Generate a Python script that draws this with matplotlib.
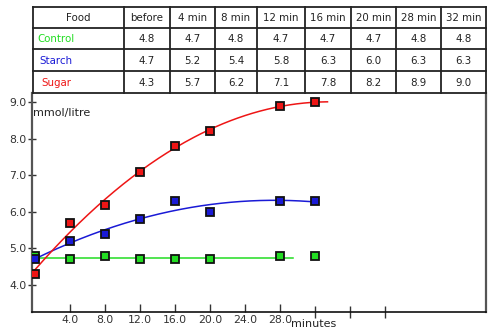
import numpy as np
import matplotlib
matplotlib.use("Agg")
import matplotlib.pyplot as plt

# blood glucose after eating (mmol/litre)
foods = ["Control", "Starch", "Sugar"]
col_labels = ["Food", "before", "4 min", "8 min", "12 min", "16 min", "20 min", "28 min", "32 min"]
minutes = np.array([0, 4, 8, 12, 16, 20, 28, 32])
control = np.array([4.8, 4.7, 4.8, 4.7, 4.7, 4.7, 4.8, 4.8])
starch = np.array([4.7, 5.2, 5.4, 5.8, 6.3, 6.0, 6.3, 6.3])
sugar = np.array([4.3, 5.7, 6.2, 7.1, 7.8, 8.2, 8.9, 9.0])

food_colors = ["#22dd22", "#1a1ad6", "#ee1515"]
series = [control, starch, sugar]

W, H = 500, 334
fig = plt.figure(figsize=(W / 100, H / 100), dpi=100)
plt.rcParams["font.family"] = ["DejaVu Sans"]

# ---- table on top, laid out in pixel units ----
col_edges = [33, 124, 170, 215, 257, 305, 351, 396, 441, 486]
row_edges = [7, 28, 49, 71, 93]
tab = fig.add_axes([0, 0, 1, 1], zorder=5)
tab.set_xlim(0, W)
tab.set_ylim(H, 0)
tab.axis("off")
tab.patch.set_alpha(0)
for x in col_edges:
    tab.plot([x, x], [row_edges[0], row_edges[-1]], color="#222222", lw=1.3, solid_capstyle="projecting")
for y in row_edges:
    tab.plot([col_edges[0], col_edges[-1]], [y, y], color="#222222", lw=1.3, solid_capstyle="projecting")

fs = 7.4
for j, lab in enumerate(col_labels):
    cx = (col_edges[j] + col_edges[j + 1]) / 2
    cy = (row_edges[0] + row_edges[1]) / 2
    tab.text(cx, cy + 0.5, lab, ha="center", va="center", fontsize=fs, color="#222222")
for i, (name, vals, c) in enumerate(zip(foods, series, food_colors)):
    cy = (row_edges[i + 1] + row_edges[i + 2]) / 2
    tab.text(col_edges[0] + 4 + 2 * i, cy + 0.5, name, ha="left", va="center", fontsize=fs, color=c)
    for j, v in enumerate(vals):
        cx = (col_edges[j + 1] + col_edges[j + 2]) / 2
        tab.text(cx, cy + 0.5, f"{v:.1f}", ha="center", va="center", fontsize=fs, color="#222222")

# ---- graph ----
ax = fig.add_axes([32 / W, 1 - 312 / H, 454 / W, 219 / H])
ax.set_xlim(-0.34, 51.5)
ax.set_ylim(3.26, 9.25)

# trend lines: constant for control, quadratic fits for starch and sugar
ax.plot([0, 29.5], [control.mean()] * 2, color="#22dd22", lw=1.1, zorder=2)
t_s = np.linspace(0, 32, 200)
ax.plot(t_s, np.polyval(np.polyfit(minutes, starch, 2), t_s), color="#1a1ad6", lw=1.1, zorder=2)
t_r = np.linspace(0, 33.4, 200)
ax.plot(t_r, np.polyval(np.polyfit(minutes, sugar, 2), t_r), color="#ee1515", lw=1.1, zorder=2)

for vals, c in zip(series, food_colors):
    ax.plot(minutes, vals, linestyle="none", marker="s", markersize=6, markerfacecolor=c,
            markeredgecolor="#111111", markeredgewidth=1.3, zorder=3)

ax.set_yticks([4.0, 5.0, 6.0, 7.0, 8.0, 9.0])
ax.set_yticklabels(["4.0", "5.0", "6.0", "7.0", "8.0", "9.0"])
ax.set_xticks([4, 8, 12, 16, 20, 24, 28])
ax.set_xticklabels(["4.0", "8.0", "12.0", "16.0", "20.0", "24.0", "28.0"])
ax.set_xticks([32, 36, 40], minor=True)
ax.tick_params(axis="y", direction="inout", length=6, width=1, labelsize=7.8, colors="#333333", pad=1)
ax.tick_params(axis="x", which="major", direction="in", length=6, width=1, labelsize=7.8,
               colors="#333333", pad=2)
ax.tick_params(axis="x", which="minor", direction="inout", length=8, width=1, colors="#333333")

for side in ["left", "right"]:
    ax.spines[side].set_color("#555555")
    ax.spines[side].set_linewidth(1.6)
ax.spines["bottom"].set_color("#111111")
ax.spines["bottom"].set_linewidth(1.2)
ax.spines["top"].set_visible(False)

ax.text(0.003, 0.91, "mmol/litre", transform=ax.transAxes, fontsize=8, color="#222222",
        ha="left", va="center")
ax.text(29.2, -0.03, "minutes", transform=ax.get_xaxis_transform(), fontsize=8,
        color="#222222", ha="left", va="top")

fig.savefig("out.png", dpi=100)
